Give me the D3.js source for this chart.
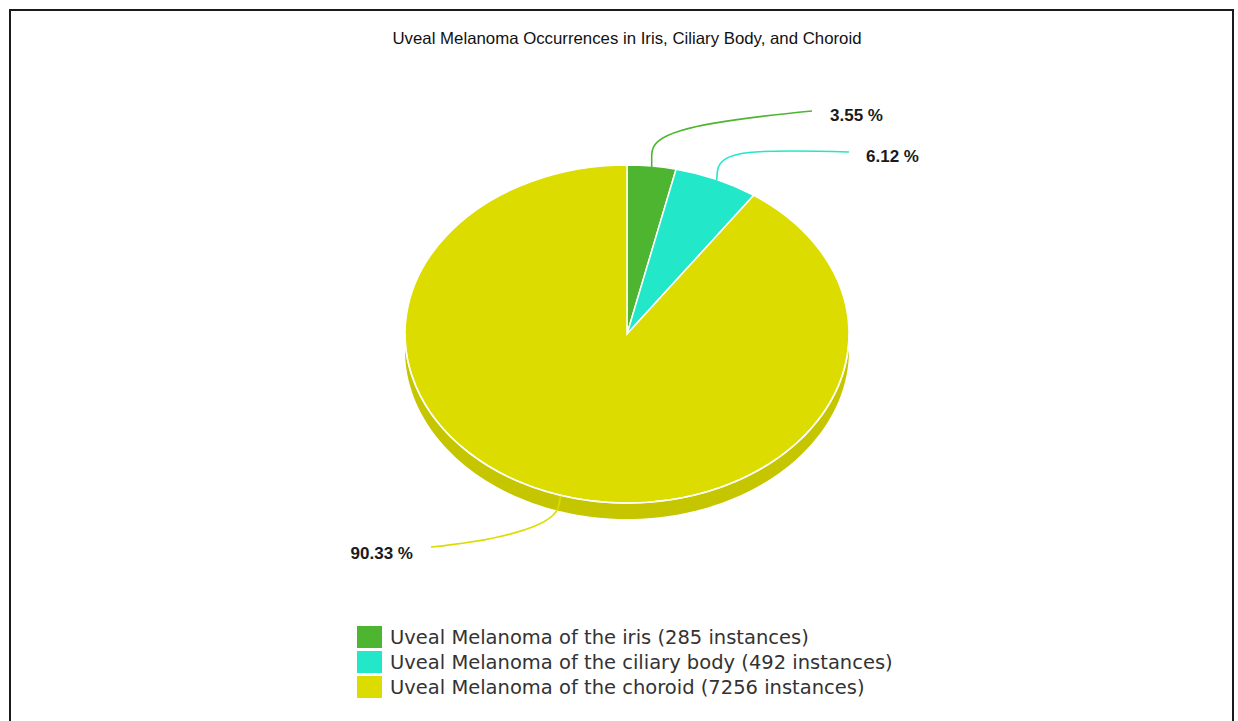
<!DOCTYPE html>
<html>
<head>
<meta charset="utf-8">
<script src="https://cdn.jsdelivr.net/npm/d3@7"></script>
<style>
  html, body { margin: 0; padding: 0; background: #fff; }
  svg { display: block; }
</style>
</head>
<body>
<svg id="chart" width="1238" height="721"></svg>
<script>
// ---- data ----
const title = "Uveal Melanoma Occurrences in Iris, Ciliary Body, and Choroid";
const categories = ["Uveal Melanoma of the iris", "Uveal Melanoma of the ciliary body", "Uveal Melanoma of the choroid"];
const counts = [285, 492, 7256];
const percentLabels = ["3.55 %", "6.12 %", "90.33 %"];
const colors = ["#4db530", "#22e8c9", "#dcdc00"];
const sideColors = ["#3e9a26", "#1cc7ad", "#c6c600"];

// ---- layout ----
const cx = 627, cy = 334, rx = 222, ry = 169, depth = 16;
const svg = d3.select("#chart");

svg.append("rect").attr("x", 10).attr("y", 10).attr("width", 1223).attr("height", 730)
  .attr("fill", "#fff").attr("stroke", "#1a1a1a").attr("stroke-width", 2);

svg.append("text").attr("x", cx).attr("y", 44)
  .attr("text-anchor", "middle").attr("font-family", "Liberation Sans, Arial, sans-serif")
  .attr("font-size", 16.5).attr("fill", "#111").text(title)
  .attr("textLength", 469).attr("lengthAdjust", "spacingAndGlyphs");

const data = categories.map((c, i) => ({ name: c, value: counts[i], color: colors[i], side: sideColors[i], label: percentLabels[i] }));
const pie = d3.pie().sort(null).value(d => d.value);
const arcs = pie(data);

const sy = ry / rx;
const ex = a => cx + rx * Math.sin(a);
const ey = a => cy - ry * Math.cos(a);

// side (front half: angles PI/2 .. 3PI/2)
const gSide = svg.append("g");
arcs.forEach(a => {
  const a0 = Math.max(a.startAngle, Math.PI / 2), a1 = Math.min(a.endAngle, 3 * Math.PI / 2);
  if (a1 <= a0) return;
  const angs = d3.range(0, 101).map(k => a0 + (a1 - a0) * k / 100);
  const top = angs.map(t => [ex(t), ey(t)]);
  const bot = angs.slice().reverse().map(t => [ex(t), ey(t) + depth]);
  gSide.append("path").attr("d", d3.line()(top.concat(bot)) + "Z").attr("fill", a.data.side);
});

// top face
const arcGen = d3.arc().innerRadius(0).outerRadius(rx);
const gTop = svg.append("g").attr("transform", `translate(${cx},${cy}) scale(1,${sy})`);
gTop.selectAll("path").data(arcs).join("path")
  .attr("d", arcGen).attr("fill", d => d.data.color)
  .attr("stroke", "#fff").attr("stroke-width", 1.5)
  .attr("vector-effect", "non-scaling-stroke");

// highlight along front rim
const rimAngs = d3.range(0, 101).map(k => Math.PI / 2 + Math.PI * k / 100);
svg.append("path").attr("d", d3.line()(rimAngs.map(t => [ex(t), ey(t)])))
  .attr("fill", "none").attr("stroke", "#fff").attr("stroke-width", 1.6).attr("opacity", 0.9);

// leader lines + labels
const labelFont = "Liberation Sans, Arial, sans-serif";
// seg: straight first segment offset from start; c1: relative to start; c2: relative to end
const leaderSpec = [
  { end: [812, 111], text: [830, 121], anchor: "start", seg: [0, -12], c1: [0, -32], c2: [-135, 13] },
  { end: [849, 152], text: [866, 162], anchor: "start", seg: [1, -10], c1: [4, -30], c2: [-95, -3] },
  { end: [431, 547], text: [413, 559], anchor: "end", seg: [-2, 10], c1: [-7, 32], c2: [60, -6] }
];
arcs.forEach((a, i) => {
  const mid = (a.startAngle + a.endAngle) / 2;
  const s = leaderSpec[i];
  const x0 = ex(mid), y0 = ey(mid) + 1;
  const [x2, y2] = s.end;
  const p = d3.path();
  p.moveTo(x0, y0);
  p.lineTo(x0 + s.seg[0], y0 + s.seg[1]);
  p.bezierCurveTo(x0 + s.c1[0], y0 + s.c1[1], x2 + s.c2[0], y2 + s.c2[1], x2, y2);
  svg.append("path").attr("d", p.toString()).attr("fill", "none")
    .attr("stroke", a.data.color).attr("stroke-width", 1.6);
  svg.append("text").attr("x", s.text[0]).attr("y", s.text[1])
    .attr("text-anchor", s.anchor).attr("font-family", labelFont)
    .attr("font-weight", "bold").attr("font-size", 17).attr("fill", "#1a1a1a")
    .text(a.data.label);
});

// legend
const legX = 357, legY0 = 626, rowH = 25;
const leg = svg.append("g");
data.forEach((d, i) => {
  leg.append("rect").attr("x", legX).attr("y", legY0 + i * rowH).attr("width", 25).attr("height", 22)
    .attr("fill", d.color);
  leg.append("text").attr("x", legX + 33).attr("y", legY0 + i * rowH + 18)
    .attr("font-family", "DejaVu Sans, Verdana, sans-serif").attr("font-size", 18.5)
    .attr("fill", "#333").text(`${d.name} (${d.value} instances)`);
});
const tNodes = leg.selectAll("text").nodes();
const w1 = tNodes[1].getComputedTextLength();
leg.selectAll("text").attr("font-size", 18.5 * 503 / w1);
</script>
</body>
</html>
